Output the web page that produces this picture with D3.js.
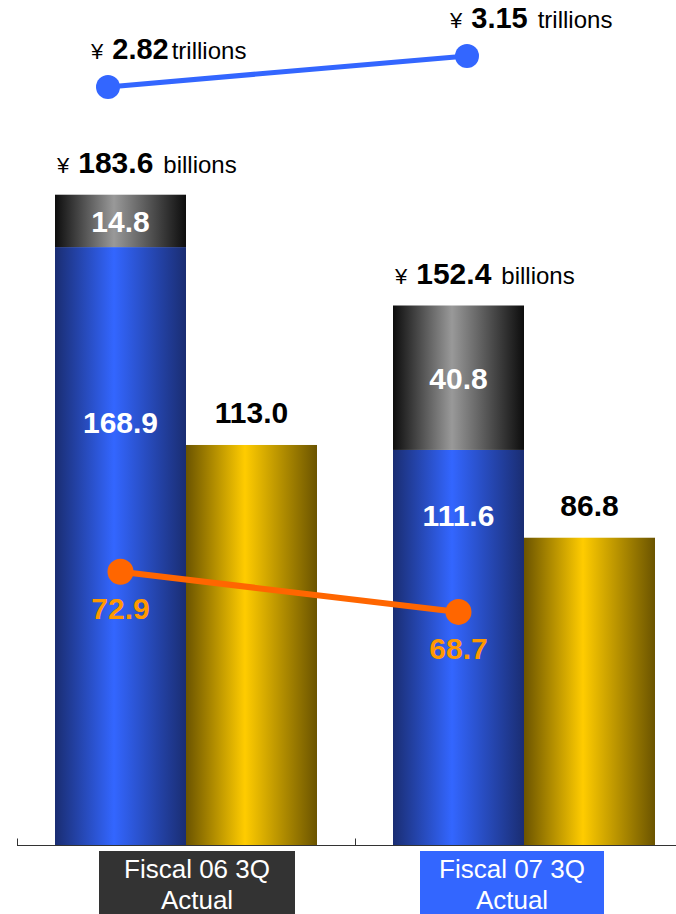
<!DOCTYPE html>
<html>
<head>
<meta charset="utf-8">
<script src="https://cdn.jsdelivr.net/npm/d3@7"></script>
<style>
  html, body { margin: 0; padding: 0; background: #fff; }
  svg { display: block; font-family: "Liberation Sans", Arial, sans-serif; }
</style>
</head>
<body>
<svg id="chart" width="676" height="914"></svg>
<script>
// Quarterly figures
const categories   = ["Fiscal 06 3Q", "Fiscal 07 3Q"];
const categorySub  = ["Actual", "Actual"];
const blueValues   = [168.9, 111.6];   // lower stacked segment
const grayValues   = [14.8, 40.8];     // upper stacked segment
const totalValues  = [183.6, 152.4];   // stack totals (billions)
const yellowValues = [113.0, 86.8];
const orangeValues = [72.9, 68.7];
const topValues    = [2.82, 3.15];     // trillions
const boxColors    = ["#333333", "#3366ff"];

const svg = d3.select("#chart");
const W = 676, H = 914;

// Scales
const x = d3.scaleBand().domain(categories).range([17, 693]);
const sub = d3.scaleBand().domain(["stack", "single"]).range([38, 300]);
const y = d3.scaleLinear().domain([0, 200]).range([845, 137]);
const yOrange = d3.scaleLinear().domain([60, 80]).range([695, 504]);
const yTop = d3.scaleLinear().domain([2.5, 3.5]).range([117, 23]);
const xTop = d3.scalePoint().domain(categories).range([108, 467]);
const xBox = d3.scalePoint().domain(categories).range([197, 512]);

// Gradients
const defs = svg.append("defs");
function hGrad(id, edge, peak) {
  const g = defs.append("linearGradient").attr("id", id)
    .attr("x1", "0%").attr("x2", "100%").attr("y1", "0%").attr("y2", "0%");
  g.append("stop").attr("offset", "0%").attr("stop-color", edge);
  g.append("stop").attr("offset", "45%").attr("stop-color", peak);
  g.append("stop").attr("offset", "100%").attr("stop-color", edge);
}
hGrad("gBlue", "#1a2d72", "#3366ff");
hGrad("gGray", "#0d0d0d", "#999999");
hGrad("gYellow", "#6b5400", "#ffcc00");

const data = categories.map((c, i) => ({
  cat: c, sub: categorySub[i], blue: blueValues[i], gray: grayValues[i],
  total: totalValues[i], yellow: yellowValues[i], orange: orangeValues[i],
  top: topValues[i], box: boxColors[i]
}));

const bw = sub.bandwidth();
const sx = d => x(d.cat) + sub("stack");
const yx = d => x(d.cat) + sub("single");

// Stacked bars
svg.selectAll(".blue").data(data).join("rect")
  .attr("x", sx).attr("width", bw)
  .attr("y", d => y(d.blue)).attr("height", d => y(0) - y(d.blue))
  .attr("fill", "url(#gBlue)");
svg.selectAll(".gray").data(data).join("rect")
  .attr("x", sx).attr("width", bw)
  .attr("y", d => y(d.blue + d.gray)).attr("height", d => y(d.blue) - y(d.blue + d.gray))
  .attr("fill", "url(#gGray)");
// Single bars
svg.selectAll(".yellow").data(data).join("rect")
  .attr("x", yx).attr("width", bw)
  .attr("y", d => y(d.yellow)).attr("height", d => y(0) - y(d.yellow))
  .attr("fill", "url(#gYellow)");

// Axis
const axis = svg.append("g").attr("transform", `translate(0,${y(0) + 0.5})`);
axis.append("line").attr("x1", 17).attr("x2", W).attr("stroke", "#333").attr("stroke-width", 1);
axis.selectAll("line.tick").data(categories.concat(["end"])).join("line")
  .attr("x1", (d, i) => 17 + i * x.bandwidth() + 0.5)
  .attr("x2", (d, i) => 17 + i * x.bandwidth() + 0.5)
  .attr("y1", 0).attr("y2", -7).attr("stroke", "#333");

// Segment labels
svg.selectAll(".lblGray").data(data).join("text")
  .attr("x", d => sx(d) + bw / 2)
  .attr("y", d => (y(d.blue) + y(d.blue + d.gray)) / 2 + 11)
  .attr("text-anchor", "middle").attr("fill", "#fff")
  .attr("font-weight", "bold").attr("font-size", 30)
  .text(d => d.gray.toFixed(1));
svg.selectAll(".lblBlue").data(data).join("text")
  .attr("x", d => sx(d) + bw / 2)
  .attr("y", d => y(d.yellow) - 12)
  .attr("text-anchor", "middle").attr("fill", "#fff")
  .attr("font-weight", "bold").attr("font-size", 30)
  .text(d => d.blue.toFixed(1));
svg.selectAll(".lblYellow").data(data).join("text")
  .attr("x", d => yx(d) + bw / 2)
  .attr("y", d => y(d.yellow) - 22)
  .attr("text-anchor", "middle").attr("fill", "#000")
  .attr("font-weight", "bold").attr("font-size", 30)
  .text(d => d.yellow.toFixed(1));

// Stack totals
const tot = svg.selectAll(".lblTotal").data(data).join("text")
  .attr("x", d => sx(d) + 2)
  .attr("y", d => y(d.total) - 22)
  .attr("fill", "#000");
tot.append("tspan").attr("font-size", 22).text("¥");
tot.append("tspan").attr("font-size", 30).attr("font-weight", "bold").attr("dx", 9)
  .text(d => d.total.toFixed(1));
tot.append("tspan").attr("font-size", 24).attr("dx", 10).text("billions");

// Orange line
const lineO = d3.line().x(d => sx(d) + bw / 2).y(d => yOrange(d.orange));
svg.append("path").datum(data).attr("d", lineO)
  .attr("fill", "none").attr("stroke", "#ff6600").attr("stroke-width", 6);
svg.selectAll(".dotO").data(data).join("circle")
  .attr("cx", d => sx(d) + bw / 2).attr("cy", d => yOrange(d.orange))
  .attr("r", 13).attr("fill", "#ff6600");
svg.selectAll(".lblO").data(data).join("text")
  .attr("x", d => sx(d) + bw / 2)
  .attr("y", d => yOrange(d.orange) + 47)
  .attr("text-anchor", "middle").attr("fill", "#ff9900")
  .attr("font-weight", "bold").attr("font-size", 30)
  .text(d => d.orange.toFixed(1));

// Top line (trillions)
const lineT = d3.line().x(d => xTop(d.cat)).y(d => yTop(d.top));
svg.append("path").datum(data).attr("d", lineT)
  .attr("fill", "none").attr("stroke", "#3366ff").attr("stroke-width", 5);
svg.selectAll(".dotT").data(data).join("circle")
  .attr("cx", d => xTop(d.cat)).attr("cy", d => yTop(d.top))
  .attr("r", 12).attr("fill", "#3366ff");
const tl = svg.selectAll(".lblT").data(data).join("text")
  .attr("x", d => xTop(d.cat) - 17)
  .attr("y", d => yTop(d.top) - 28)
  .attr("fill", "#000");
tl.append("tspan").attr("font-size", 22).text("¥");
tl.append("tspan").attr("font-size", 29).attr("font-weight", "bold").attr("dx", 9)
  .text(d => d.top.toFixed(2));
tl.append("tspan").attr("font-size", 24).attr("dx", (d, i) => i === 0 ? 3 : 10).text("trillions");

// Category boxes
const bx = svg.selectAll(".box").data(data).join("g")
  .attr("transform", d => `translate(${xBox(d.cat)},851)`);
bx.append("rect").attr("x", (d, i) => i === 0 ? -98 : -92)
  .attr("width", (d, i) => i === 0 ? 196 : 184)
  .attr("height", H - 851).attr("fill", d => d.box);
bx.append("text").attr("text-anchor", "middle").attr("y", 27)
  .attr("fill", "#fff").attr("font-size", 26).text(d => d.cat);
bx.append("text").attr("text-anchor", "middle").attr("y", 58)
  .attr("fill", "#fff").attr("font-size", 26).text(d => d.sub);
</script>
</body>
</html>
